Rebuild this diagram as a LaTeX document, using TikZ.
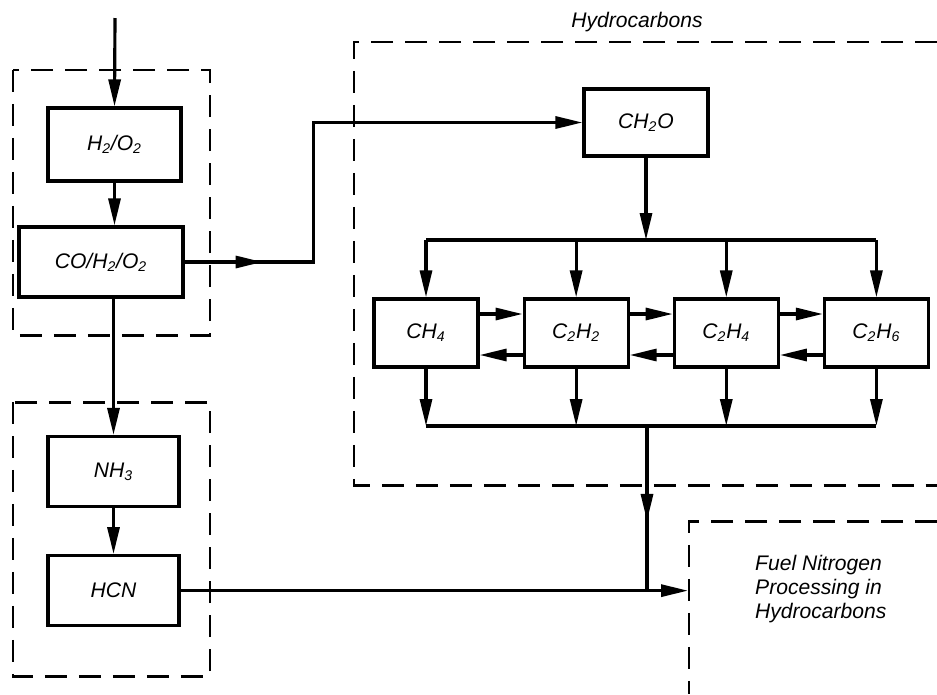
\documentclass[tikz,border=0pt]{standalone}
\usepackage{fontspec}
\setmainfont{Liberation Sans}
\usetikzlibrary{arrows.meta,positioning,decorations.markings}
\newcommand{\chemsub}[1]{\textsubscript{#1}}
\tikzset{
  box/.style={draw=black, line width=1.8pt, minimum height=1.4cm, inner sep=2pt, font=\itshape\fontsize{12}{14}\selectfont, align=center},
  boxR/.style={box, minimum width=2.08cm, minimum height=1.36cm},
  arr/.style={-{Triangle[length=0.54cm,width=0.24cm]}, line width=1.8pt},
  wire/.style={line width=1.8pt},
  midarr/.style={wire, postaction={decorate}, decoration={markings, mark=at position #1 with {\arrow{Triangle[length=0.54cm,width=0.24cm]}}}},
  zone/.style={line width=1.7pt, dash pattern=on 0.44cm off 0.24cm},
  lbl/.style={font=\itshape\fontsize{12}{13.4}\selectfont, align=left},
}
\begin{document}
\begin{tikzpicture}[x=0.02cm, y=-0.02cm]
            \useasboundingbox (0,0) rectangle (937,694);
            % dashed zones
            \draw[zone] (13,70) rectangle (210,335);
            \draw[zone] (13,402) rectangle (210,676);
            \draw[zone] (937,42) -- (354,42) -- (354,485) -- (937,485);
            \draw[zone] (937,521) -- (689,521) -- (689,694);
            \node[lbl] (hctitle) at (637,22) {Hydrocarbons};
            \node[lbl, anchor=west] (fueltxt) at (749,589) {Fuel Nitrogen\\Processing in\\Hydrocarbons};
            % left column
            \coordinate (feed) at (115,18);
            \node[box, minimum width=2.66cm, minimum height=1.46cm] (hyox) at (114.5,144.5) {H\chemsub{2}/O\chemsub{2}};
            \node[box, minimum width=3.28cm] (co) at (101,262) {CO/H\chemsub{2}/O\chemsub{2}};
            \node[box, minimum width=2.62cm] (nh3) at (113.5,471.5) {NH\chemsub{3}};
            \node[box, minimum width=2.62cm, below=0.92cm of nh3] (hcn) {HCN};
            % hydrocarbon row
            \node[box, minimum width=2.48cm, minimum height=1.34cm] (ch2o) at (646,122.5) {CH\chemsub{2}O};
            \node[boxR] (ch4) at (426,333) {CH\chemsub{4}};
            \node[boxR, right=0.86cm of ch4] (c2h2) {C\chemsub{2}H\chemsub{2}};
            \node[boxR, right=0.86cm of c2h2] (c2h4) {C\chemsub{2}H\chemsub{4}};
            \node[boxR, right=0.86cm of c2h4] (c2h6) {C\chemsub{2}H\chemsub{6}};
            \coordinate (split) at (647,240);
            \coordinate (merge) at (647,426);
            \coordinate (fuelcol) at (688,0);
            \coordinate (fuelin) at (hcn.east -| fuelcol);
            % connectors
            \draw[arr] (feed) -- (hyox.north);
            \draw[arr] (hyox.south) -- (hyox.south |- co.north);
            \draw[arr] (co.south -| nh3.north) -- (nh3.north);
            \draw[arr] (nh3.south) -- (hcn.north);
            \draw[midarr=1.56cm, arr] (co.east) -- ++(2.58cm,0) |- (ch2o.west);
            \draw[arr] (ch2o.south) -- (ch2o.south |- split);
            \draw[wire] (ch4.north |- split) -- (c2h6.north |- split);
            \draw[wire] (ch4.south |- merge) -- (c2h6.south |- merge);
            \foreach \n in {ch4,c2h2,c2h4,c2h6} {
              \draw[arr] (\n.north |- split) -- (\n.north);
              \draw[arr] (\n.south) -- (\n.south |- merge);
            }
            \foreach \a/\b in {ch4/c2h2,c2h2/c2h4,c2h4/c2h6} {
              \draw[arr] ([yshift=0.38cm]\a.east) -- ([yshift=0.38cm]\b.west);
              \draw[arr] ([yshift=-0.44cm]\b.west) -- ([yshift=-0.44cm]\a.east);
            }
            \draw[midarr=1.9cm] (merge) -- (merge |- fuelin);
            \draw[arr] (hcn.east) -- (fuelin);
        \end{tikzpicture}
\end{document}
